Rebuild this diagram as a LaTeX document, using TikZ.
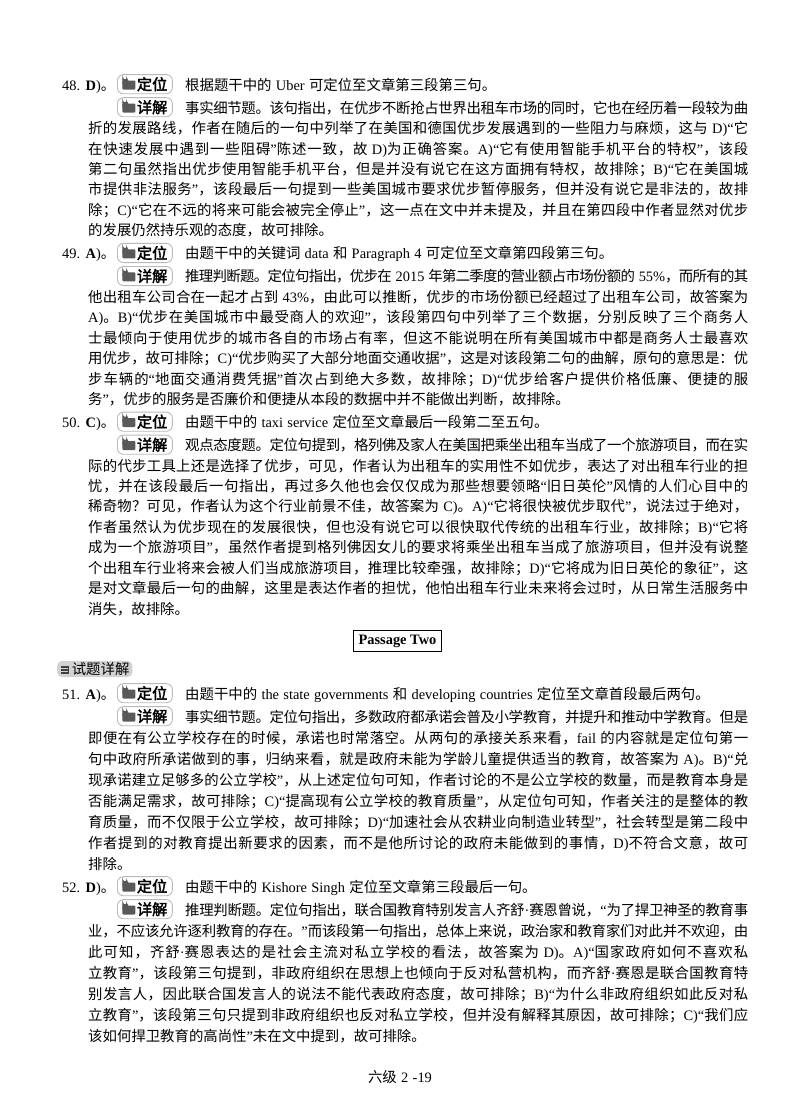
\documentclass[tikz,border=0pt]{standalone}
\usepackage{fontspec}
\setmainfont{Liberation Serif}
\newfontfamily\cjkfont[AutoFakeBold=2.5]{Noto Sans CJK SC}
\XeTeXinterchartokenstate=1
\newXeTeXintercharclass\CJKcls
\newcount\cc
\def\setcls#1#2{\cc=#1 \loop\XeTeXcharclass\cc=\CJKcls \ifnum\cc<#2 \advance\cc by 1 \repeat}
\setcls{"3000}{"303F}\setcls{"4E00}{"9FFF}\setcls{"FF00}{"FFEF}
\XeTeXinterchartoks 0 \CJKcls = {\begingroup\cjkfont}
\XeTeXinterchartoks 4095 \CJKcls = {\begingroup\cjkfont}
\XeTeXinterchartoks \CJKcls 0 = {\endgroup}
\XeTeXinterchartoks \CJKcls 4095 = {\endgroup}
\XeTeXinterchartoks \CJKcls \CJKcls = {\hskip 0pt plus 3pt minus 1pt\relax}
\newcommand{\bodyfont}{\fontsize{14.4}{17}\selectfont\spaceskip=0.3em plus 0.04em minus 0.05em\relax}
\tikzset{
  txt/.style={anchor=base west,inner sep=0pt,font=\bodyfont},
  tagbox/.style={draw=gray!55,line width=0.9pt,rounded corners=6pt,inner xsep=5pt,inner ysep=2.5pt,anchor=base west,font=\fontsize{15.2}{17}\selectfont\bfseries},
}
\newcommand{\fold}{\tikz[baseline=-0.5pt]{\fill[black!65,rounded corners=1pt] (0,0) rectangle (13pt,9pt);\fill[black!65] (0,8.5pt) -- (0,10.5pt) -- (5pt,10.5pt) -- (6pt,8.5pt) -- cycle;}\hspace{1.5pt}}
\newcommand{\jl}[4]{\node[txt] (#1) at (#2,#3) {\hbox to \dimexpr748pt-#2pt\relax{#4}};}
\newcommand{\nl}[4]{\node[txt] (#1) at (#2,#3) {#4};}
\newcommand{\tg}[3]{\node[tagbox] (#1) at (117,#2) {\fold#3};}
\begin{document}
\begin{tikzpicture}[x=1pt,y=-1pt]
\useasboundingbox (0,0) rectangle (800,1114);
% ---- 48
\nl{n48}{62}{90}{48. \textbf{D})。}
\tg{t48a}{90}{定位}
\nl{a48}{185}{90}{根据题干中的 Uber 可定位至文章第三段第三句。}
\tg{t48b}{113}{详解}
\jl{b1}{185}{113}{事实细节题。该句指出，在优步不断抢占世界出租车市场的同时，它也在经历着一段较为曲}
\jl{b2}{88}{133.5}{折的发展路线，作者在随后的一句中列举了在美国和德国优步发展遇到的一些阻力与麻烦，这与 D)“它}
\jl{b3}{88}{154}{在快速发展中遇到一些阻碍”陈述一致，故 D)为正确答案。A)“它有使用智能手机平台的特权”，该段}
\jl{b4}{88}{174.4}{第二句虽然指出优步使用智能手机平台，但是并没有说它在这方面拥有特权，故排除；B)“它在美国城}
\jl{b5}{88}{194.9}{市提供非法服务”，该段最后一句提到一些美国城市要求优步暂停服务，但并没有说它是非法的，故排}
\jl{b6}{88}{215.3}{除；C)“它在不远的将来可能会被完全停止”，这一点在文中并未提及，并且在第四段中作者显然对优步}
\nl{b7}{88}{235.8}{的发展仍然持乐观的态度，故可排除。}
% ---- 49
\nl{n49}{62}{258.8}{49. \textbf{A})。}
\tg{t49a}{258.8}{定位}
\nl{a49}{185}{258.8}{由题干中的关键词 data 和 Paragraph 4 可定位至文章第四段第三句。}
\tg{t49b}{281.8}{详解}
\jl{c1}{185}{281.8}{推理判断题。定位句指出，优步在 2015 年第二季度的营业额占市场份额的 55\%，而所有的其}
\jl{c2}{88}{302.2}{他出租车公司合在一起才占到 43\%，由此可以推断，优步的市场份额已经超过了出租车公司，故答案为}
\jl{c3}{88}{322.7}{A)。B)“优步在美国城市中最受商人的欢迎”，该段第四句中列举了三个数据，分别反映了三个商务人}
\jl{c4}{88}{343.1}{士最倾向于使用优步的城市各自的市场占有率，但这不能说明在所有美国城市中都是商务人士最喜欢}
\jl{c5}{88}{363.6}{用优步，故可排除；C)“优步购买了大部分地面交通收据”，这是对该段第二句的曲解，原句的意思是：优}
\jl{c6}{88}{384}{步车辆的“地面交通消费凭据”首次占到绝大多数，故排除；D)“优步给客户提供价格低廉、便捷的服}
\nl{c7}{88}{404.5}{务”，优步的服务是否廉价和便捷从本段的数据中并不能做出判断，故排除。}
% ---- 50
\nl{n50}{62}{427.5}{50. \textbf{C})。}
\tg{t50a}{427.5}{定位}
\nl{a50}{185}{427.5}{由题干中的 taxi service 定位至文章最后一段第二至五句。}
\tg{t50b}{450.5}{详解}
\jl{d1}{185}{450.5}{观点态度题。定位句提到，格列佛及家人在美国把乘坐出租车当成了一个旅游项目，而在实}
\jl{d2}{88}{471}{际的代步工具上还是选择了优步，可见，作者认为出租车的实用性不如优步，表达了对出租车行业的担}
\jl{d3}{88}{491.4}{忧，并在该段最后一句指出，再过多久他也会仅仅成为那些想要领略“旧日英伦”风情的人们心目中的}
\jl{d4}{88}{511.9}{稀奇物？可见，作者认为这个行业前景不佳，故答案为 C)。A)“它将很快被优步取代”，说法过于绝对，}
\jl{d5}{88}{532.3}{作者虽然认为优步现在的发展很快，但也没有说它可以很快取代传统的出租车行业，故排除；B)“它将}
\jl{d6}{88}{552.8}{成为一个旅游项目”，虽然作者提到格列佛因女儿的要求将乘坐出租车当成了旅游项目，但并没有说整}
\jl{d7}{88}{573.2}{个出租车行业将来会被人们当成旅游项目，推理比较牵强，故排除；D)“它将成为旧日英伦的象征”，这}
\jl{d8}{88}{593.7}{是对文章最后一句的曲解，这里是表达作者的担忧，他怕出租车行业未来将会过时，从日常生活服务中}
\nl{d9}{88}{614.1}{消失，故排除。}
% ---- Passage Two
\node[draw,line width=1.1pt,inner xsep=5pt,inner ysep=4pt,font=\fontsize{14.4}{17}\selectfont\bfseries] (pt) at (397.5,641) {Passage Two};
\node[fill=gray!35,rounded corners=5pt,inner xsep=3pt,inner ysep=1.5pt,anchor=west,font=\bodyfont] (stxj) at (57,669)
 {\tikz[baseline=-0.5pt]{\draw[black!75,line width=1.2pt] (0,7pt)--(8pt,7pt) (0,4pt)--(8pt,4pt) (0,1pt)--(8pt,1pt) (8pt,1pt)--(8pt,7pt);}\,试题详解};
% ---- 51
\nl{n51}{62}{699}{51. \textbf{A})。}
\tg{t51a}{699}{定位}
\nl{a51}{185}{699}{由题干中的 the state governments 和 developing countries 定位至文章首段最后两句。}
\tg{t51b}{722}{详解}
\jl{e1}{185}{722}{事实细节题。定位句指出，多数政府都承诺会普及小学教育，并提升和推动中学教育。但是}
\jl{e2}{88}{743}{即便在有公立学校存在的时候，承诺也时常落空。从两句的承接关系来看，fail 的内容就是定位句第一}
\jl{e3}{88}{764}{句中政府所承诺做到的事，归纳来看，就是政府未能为学龄儿童提供适当的教育，故答案为 A)。B)“兑}
\jl{e4}{88}{785}{现承诺建立足够多的公立学校”，从上述定位句可知，作者讨论的不是公立学校的数量，而是教育本身是}
\jl{e5}{88}{806}{否能满足需求，故可排除；C)“提高现有公立学校的教育质量”，从定位句可知，作者关注的是整体的教}
\jl{e6}{88}{827}{育质量，而不仅限于公立学校，故可排除；D)“加速社会从农耕业向制造业转型”，社会转型是第二段中}
\jl{e7}{88}{848}{作者提到的对教育提出新要求的因素，而不是他所讨论的政府未能做到的事情，D)不符合文意，故可}
\nl{e8}{88}{869}{排除。}
% ---- 52
\nl{n52}{62}{892}{52. \textbf{D})。}
\tg{t52a}{892}{定位}
\nl{a52}{185}{892}{由题干中的 Kishore Singh 定位至文章第三段最后一句。}
\tg{t52b}{915}{详解}
\jl{f1}{185}{915}{推理判断题。定位句指出，联合国教育特别发言人齐舒·赛恩曾说，“为了捍卫神圣的教育事}
\jl{f2}{88}{936}{业，不应该允许逐利教育的存在。”而该段第一句指出，总体上来说，政治家和教育家们对此并不欢迎，由}
\jl{f3}{88}{957}{此可知，齐舒·赛恩表达的是社会主流对私立学校的看法，故答案为 D)。A)“国家政府如何不喜欢私}
\jl{f4}{88}{978}{立教育”，该段第三句提到，非政府组织在思想上也倾向于反对私营机构，而齐舒·赛恩是联合国教育特}
\jl{f5}{88}{999}{别发言人，因此联合国发言人的说法不能代表政府态度，故可排除；B)“为什么非政府组织如此反对私}
\jl{f6}{88}{1020}{立教育”，该段第三句只提到非政府组织也反对私立学校，但并没有解释其原因，故可排除；C)“我们应}
\nl{f7}{88}{1041}{该如何捍卫教育的高尚性”未在文中提到，故可排除。}
\node[anchor=base,inner sep=0pt,font=\bodyfont] (foot) at (400,1082) {六级 2 -19};
\end{tikzpicture}
\end{document}
